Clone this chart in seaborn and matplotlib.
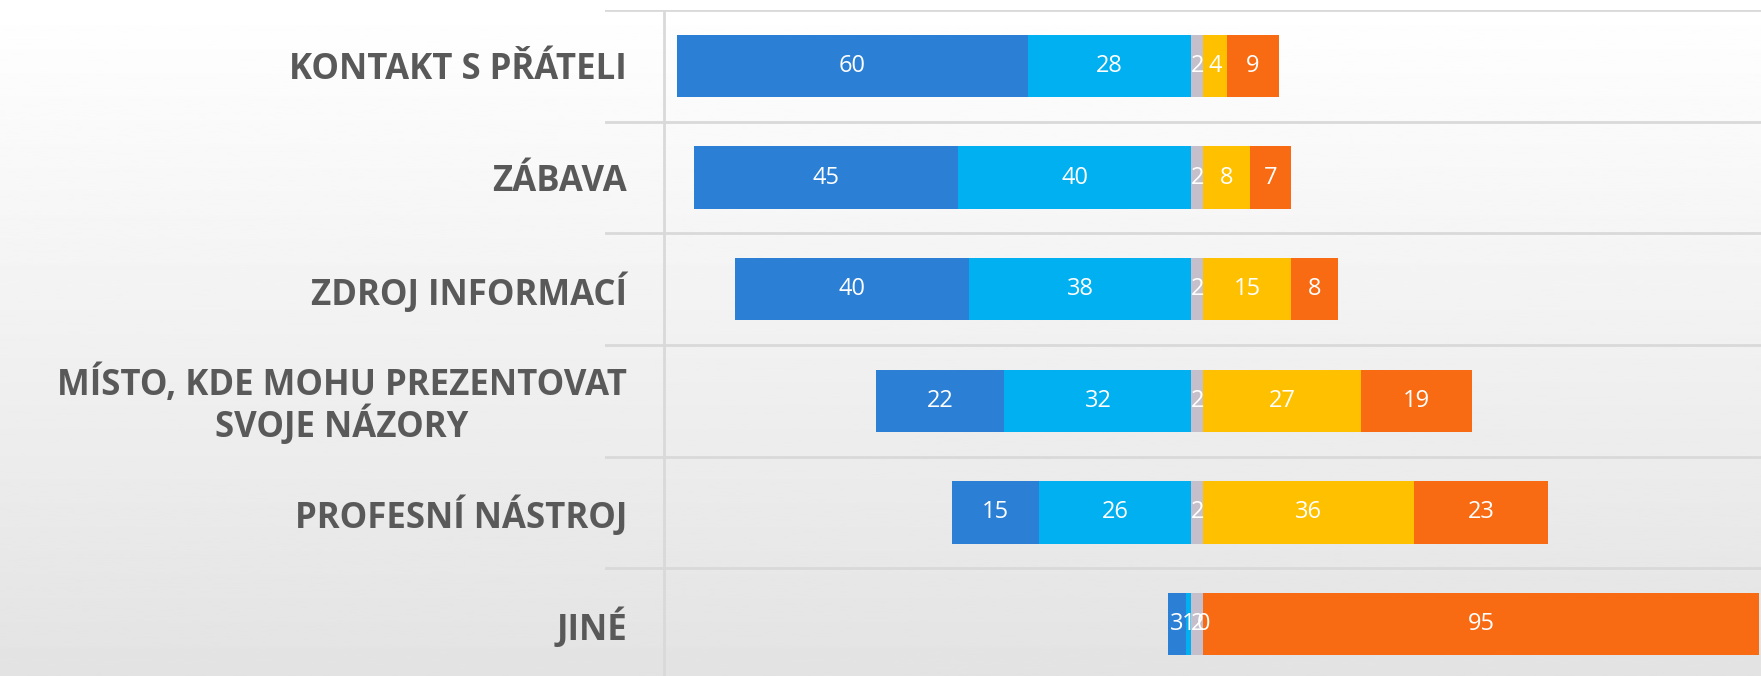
import numpy as np
import pandas as pd
import matplotlib.pyplot as plt
import seaborn as sns

# Data (percentages)
categories = [
    "KONTAKT S PŘÁTELI",
    "ZÁBAVA",
    "ZDROJ INFORMACÍ",
    "MÍSTO, KDE MOHU PREZENTOVAT\nSVOJE NÁZORY",
    "PROFESNÍ NÁSTROJ",
    "JINÉ",
]
strong_yes = [60, 45, 40, 22, 15, 3]
yes = [28, 40, 38, 32, 26, 1]
neutral = [2, 2, 2, 2, 2, 2]
no = [4, 8, 15, 27, 36, 0]
strong_no = [9, 7, 8, 19, 23, 95]

colors = {
    "strong_yes": "#2b7fd5",
    "yes": "#00b0f0",
    "neutral": "#c4bfca",
    "no": "#ffc000",
    "strong_no": "#f96b13",
}

# Cumulative edges for the diverging stack
df = pd.DataFrame({"cat": categories})
df["strong_yes"] = -(np.array(strong_yes) + np.array(yes))
df["yes"] = -np.array(yes)
df["neutral"] = np.array(neutral)
df["no"] = df["neutral"] + np.array(no)
df["strong_no"] = df["no"] + np.array(strong_no)

sns.set_style("white")
W, H = 1761, 676
fig = plt.figure(figsize=(W / 100, H / 100), dpi=100)

# Background gradient
bg = fig.add_axes([0, 0, 1, 1], zorder=-1)
grad = np.linspace(1.0, 0.89, 256).reshape(-1, 1)
bg.imshow(grad, aspect="auto", cmap="gray", vmin=0, vmax=1, extent=[0, 1, 0, 1])
bg.set_axis_off()

ax_left = 605 / W
ax = fig.add_axes([ax_left, (H - 680) / H, 1 - ax_left, 670 / H])
ax.set_facecolor("none")

# Draw longest first so shorter stacks sit on top
for col in ["strong_yes", "yes", "strong_no", "no", "neutral"]:
    sns.barplot(data=df, x=col, y="cat", orient="h", color=colors[col],
                saturation=1, width=0.56, linewidth=0, ax=ax, zorder=3)

# Segment labels
label_font = ["Open Sans", "DejaVu Sans"]
for i in range(len(categories)):
    segs = [
        (-(strong_yes[i] + yes[i]), strong_yes[i]),
        (-yes[i], yes[i]),
        (0, neutral[i]),
        (neutral[i], no[i]),
        (neutral[i] + no[i], strong_no[i]),
    ]
    for start, val in segs:
        ax.text(start + val / 2, i, str(val), ha="center", va="center",
                color="white", fontsize=17, family=label_font, zorder=5)

# Grid lines and vertical axis line
for y in np.arange(-0.5, len(categories), 1):
    ax.axhline(y, color="#d9d9d9", linewidth=2, zorder=1)
ax.axvline(-90.2, color="#d9d9d9", linewidth=2, zorder=1)

ax.set_xlim(-100.3, 97.4)
ax.set_ylim(len(categories) - 0.5, -0.5)
sns.despine(ax=ax, left=True, bottom=True)
ax.set_xticks([])
ax.set_xlabel("")
ax.set_ylabel("")
ax.tick_params(axis="y", length=0, pad=-15.8)
for lbl in ax.get_yticklabels():
    lbl.set_family(["Open Sans", "DejaVu Sans"])
    lbl.set_fontweight("bold")
    lbl.set_fontsize(25)
    lbl.set_color("#595959")
    lbl.set_multialignment("center")
    lbl.set_linespacing(1.05)

fig.savefig("out.png", dpi=100)
